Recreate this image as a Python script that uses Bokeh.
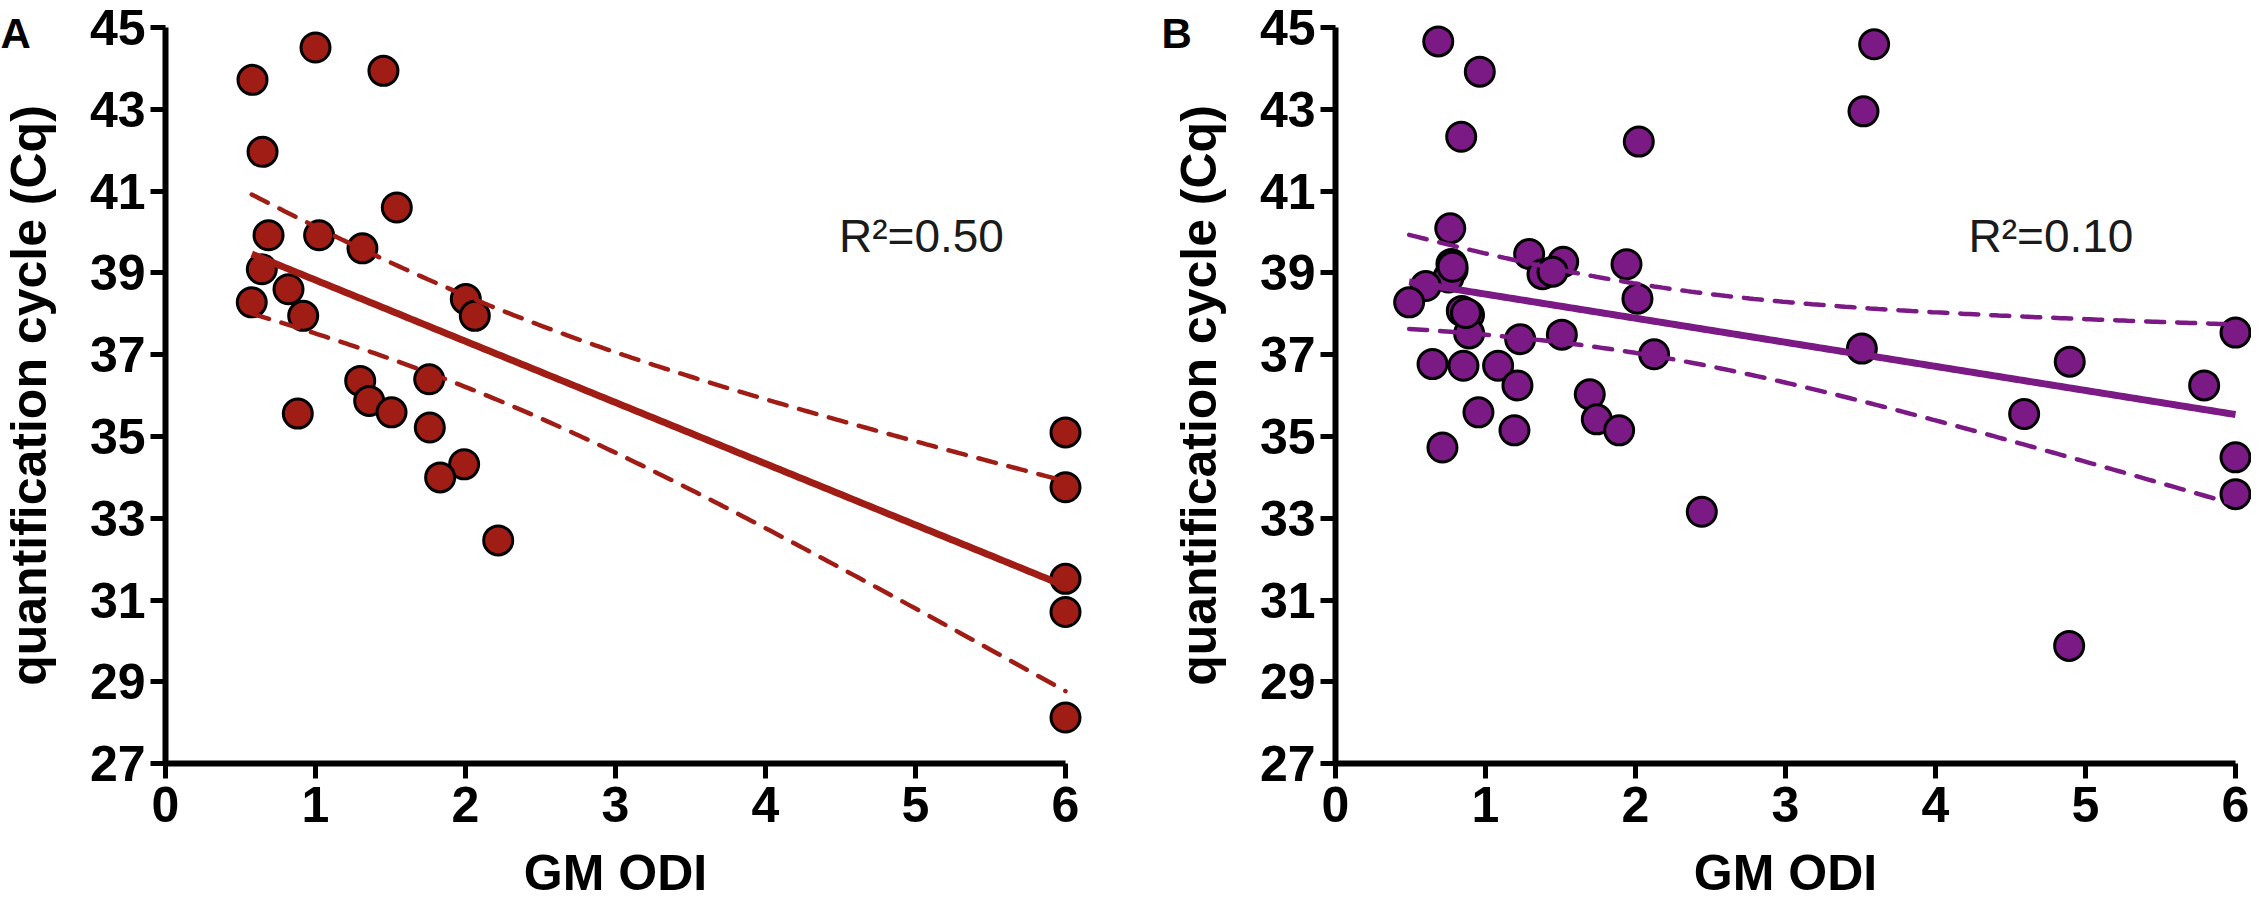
import numpy as np
from bokeh.plotting import figure
from bokeh.models import Range1d, Label, FixedTicker
from bokeh.layouts import row
from bokeh.embed import file_html
from bokeh.resources import INLINE

# ---------------- data ----------------
a_odi = [1.00, 0.58, 1.453, 0.647, 1.542, 0.687, 1.024, 1.313, 0.642, 0.82,
         0.575, 0.918, 2.002, 2.062, 1.298, 1.758, 1.358, 1.507, 0.882, 1.762,
         1.991, 1.831, 2.218, 6.0, 6.0, 6.0, 6.0, 6.0]
a_cq = [44.51, 43.72, 43.94, 41.96, 40.60, 39.92, 39.92, 39.60, 39.09, 38.60,
        38.28, 37.95, 38.36, 37.95, 36.36, 36.40, 35.87, 35.59, 35.56, 35.22,
        34.32, 34.00, 32.46, 35.10, 33.76, 31.52, 30.71, 28.13]

b_odi = [0.685, 0.962, 0.838, 2.022, 3.591, 3.52, 0.765, 0.773, 0.78, 0.753,
         0.602, 0.491, 1.291, 1.518, 1.38, 1.447, 1.94, 2.013, 0.842, 0.89,
         0.891, 1.231, 1.509, 2.124, 0.647, 0.853, 1.084, 1.213, 1.695, 1.742,
         1.891, 0.953, 1.193, 0.713, 2.442, 3.509, 4.895, 4.591, 5.791, 6.0,
         6.0, 6.0, 4.891, 0.78, 0.87]
b_cq = [44.66, 43.92, 42.33, 42.21, 44.59, 42.95, 40.09, 39.22, 39.08, 38.89,
        38.68, 38.28, 39.46, 39.27, 38.97, 39.03, 39.21, 38.37, 38.07, 37.97,
        37.52, 37.38, 37.49, 37.01, 36.77, 36.73, 36.73, 36.25, 36.03, 35.42,
        35.15, 35.59, 35.15, 34.73, 33.16, 37.15, 36.83, 35.55, 36.25, 37.54,
        34.49, 33.59, 29.88, 39.15, 38.02]

x_ticks = [0, 1, 2, 3, 4, 5, 6]
y_ticks = [27, 29, 31, 33, 35, 37, 39, 41, 43, 45]
x_title = "GM ODI"
y_title = "quantification cycle (Cq)"
r2_a = "R\u00b2=0.50"
r2_b = "R\u00b2=0.10"

FONT = "Liberation Sans"
RED = "#9f1d15"
PURPLE = "#7b1985"

# layout constants (pixels)
H = 907            # figure height
PX_X = 150.0       # pixels per x unit
PX_Y = 40.9        # pixels per y unit
Y45_TOP = 27.0     # distance of y=45 from the top of the canvas


def t975(df):
    z = 1.959963985
    return (z + (z**3 + z) / (4 * df)
            + (5 * z**5 + 16 * z**3 + 3 * z) / (96 * df**2)
            + (3 * z**7 + 19 * z**5 + 17 * z**3 - 15 * z) / (384 * df**3))


def fit_band(x, y):
    x = np.asarray(x, float)
    y = np.asarray(y, float)
    n = len(x)
    slope, icpt = np.polyfit(x, y, 1)
    resid = y - (slope * x + icpt)
    s = np.sqrt(np.sum(resid**2) / (n - 2))
    xm = x.mean()
    sxx = np.sum((x - xm) ** 2)
    xs = np.linspace(x.min(), x.max(), 200)
    ys = slope * xs + icpt
    half = t975(n - 2) * s * np.sqrt(1.0 / n + (xs - xm) ** 2 / sxx)
    return xs, ys, ys - half, ys + half


def panel(x, y, color, letter, letter_dx, r2, r2_x, width, axis_px):
    x0 = -axis_px / PX_X
    x1 = (width - axis_px) / PX_X
    ytop = 45 + Y45_TOP / PX_Y
    ybot = ytop - H / PX_Y
    p = figure(width=width, height=H, output_backend="svg", toolbar_location=None,
               title=None, x_range=Range1d(x0, x1), y_range=Range1d(ybot, ytop),
               min_border=0, min_border_left=0, min_border_right=0,
               min_border_top=0, min_border_bottom=0)
    p.grid.visible = False
    p.outline_line_color = None
    p.background_fill_color = "white"
    p.border_fill_color = "white"

    p.xaxis.ticker = FixedTicker(ticks=x_ticks)
    p.yaxis.ticker = FixedTicker(ticks=y_ticks)
    p.xaxis.bounds = (0, 6)
    p.yaxis.bounds = (27, 45)
    p.xaxis.fixed_location = 27
    p.yaxis.fixed_location = 0
    for ax in (p.xaxis[0], p.yaxis[0]):
        ax.minor_tick_line_color = None
        ax.major_tick_in = 0
        ax.major_tick_out = 15
        ax.axis_line_width = 6
        ax.axis_line_color = "black"
        ax.major_tick_line_width = 5
        ax.major_tick_line_color = "black"
        ax.major_label_text_font = FONT
        ax.major_label_text_font_size = "50px"
        ax.major_label_text_font_style = "bold"
        ax.major_label_text_color = "black"
        ax.axis_label_text_font = FONT
        ax.axis_label_text_font_size = "50px"
        ax.axis_label_text_font_style = "bold"
        ax.axis_label_text_color = "black"
    p.xaxis.axis_label = x_title
    p.yaxis.axis_label = y_title
    p.xaxis.major_label_standoff = 8
    p.yaxis.major_label_standoff = 5
    p.xaxis.axis_label_standoff = 20
    p.yaxis.axis_label_standoff = 30

    p.scatter(x, y, size=29, fill_color=color, line_color="black", line_width=3)

    xs, ys, lo, hi = fit_band(x, y)
    p.line(xs, ys, line_color=color, line_width=7)
    p.line(xs, lo, line_color=color, line_width=4.5, line_dash="18 13", line_cap="round")
    p.line(xs, hi, line_color=color, line_width=4.5, line_dash="18 13", line_cap="round")

    p.add_layout(Label(x=r2_x, y=39.91, text=r2, text_font=FONT,
                       text_font_size="46px", text_color="#1a1a1a",
                       text_align="left", text_baseline="alphabetic"))
    p.add_layout(Label(x=x0 + letter_dx / PX_X, y=44.85, text=letter, text_font=FONT,
                       text_font_size="42px", text_font_style="bold",
                       text_color="black", text_align="left",
                       text_baseline="alphabetic"))
    return p


# panel A canvas spans page x 8..1133 (y axis at page x 173)
# panel B canvas spans page x 1133..2259 (y axis at page x 1343)
pa = panel(a_odi, a_cq, RED, "A", 0, r2_a, 4.49, 1125, 165)
pb = panel(b_odi, b_cq, PURPLE, "B", 36, r2_b, 4.22, 1126, 210)

layout = row(pa, pb)
open("out.html", "w").write(file_html(layout, INLINE))
